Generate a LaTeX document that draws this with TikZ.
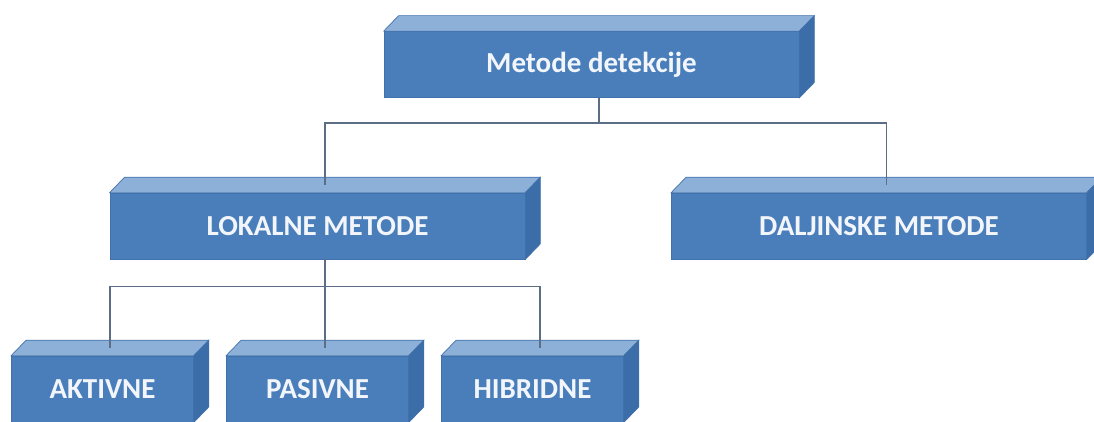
\documentclass[tikz,border=0pt]{standalone}
\usepackage{fontspec}
\setmainfont{Carlito}
\definecolor{prednja}{HTML}{4A7EBB}
\definecolor{gornja}{HTML}{8DB0D9}
\definecolor{bocna}{HTML}{3B6DA8}
\definecolor{rub}{HTML}{4272AC}
\definecolor{tekst}{HTML}{F2F6FB}
\definecolor{linija}{HTML}{5C6E86}

\begin{document}
\begin{tikzpicture}[
    kutija/.style={fill=prednja, draw=rub, line width=0.4pt, text=tekst,
        font=\fontsize{16.5}{19}\selectfont\bfseries, minimum height=1.32cm, inner sep=0pt},
    velika/.style={kutija, minimum width=8.3cm},
    mala/.style={kutija, minimum width=3.64cm},
    veza/.style={draw=linija, line width=0.9pt}
]
    % Fix the size of the picture
    \useasboundingbox (0,0) rectangle (21.88,8.42);

    % Front faces with the labels
    \node[velika] (vrh) at (11.83,7.13) {Metode detekcije};
    \node[velika] (lok) at (6.35,3.90) {LOKALNE METODE};
    \node[velika] (dal) at (17.58,3.90) {DALJINSKE METODE};
    \node[mala] (akt) at (2.05,0.64) {AKTIVNE};
    \node[mala] (pas) at (6.35,0.64) {PASIVNE};
    \node[mala] (hib) at (10.65,0.64) {HIBRIDNE};

    % Top and side faces of every box
    \foreach \n in {vrh,lok,dal,akt,pas,hib} {
        \filldraw[fill=gornja, draw=rub] (\n.north west) -- ++(0.3,0.31)
            -- ([shift={(0.3,0.31)}]\n.north east) -- (\n.north east) -- cycle;
        \filldraw[fill=bocna, draw=rub] (\n.north east) -- ++(0.3,0.31)
            -- ([shift={(0.3,0.31)}]\n.south east) -- (\n.south east) -- cycle;
    }

    % Connect the boxes
    \draw[veza] ([xshift=0.15cm]vrh.south) -- ++(0,-0.5) -| ([shift={(0.15,0.16)}]lok.north);
    \draw[veza] ([xshift=0.15cm]vrh.south) -- ++(0,-0.5) -| ([shift={(0.15,0.16)}]dal.north);
    \foreach \n in {akt,pas,hib}
        \draw[veza] ([xshift=0.15cm]lok.south) -- ++(0,-0.54) -| ([shift={(0.15,0.16)}]\n.north);
\end{tikzpicture}
\end{document}
